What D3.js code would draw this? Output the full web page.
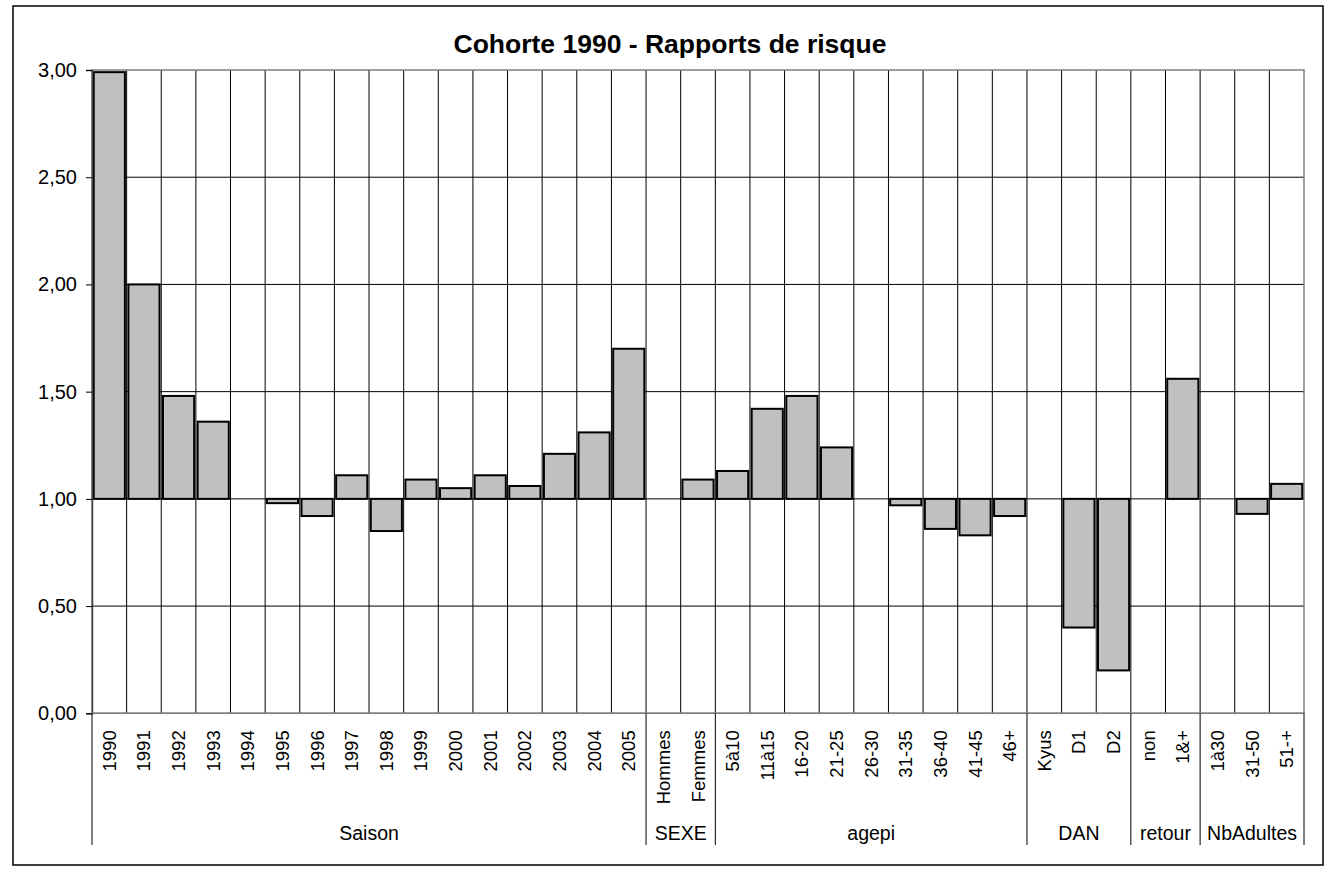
<!DOCTYPE html>
<html>
<head>
<meta charset="utf-8">
<script src="https://cdn.jsdelivr.net/npm/d3@7"></script>
<style>
  body { margin: 0; background: #fff; }
  text { font-family: Arial, 'Liberation Sans', sans-serif; fill: #000; }
</style>
</head>
<body>
<div id="graf"></div>
<script>
// -- Données
categories = ['1990', '1991', '1992', '1993', '1994', '1995', '1996', '1997', '1998', '1999',
              '2000', '2001', '2002', '2003', '2004', '2005',
              'Hommes', 'Femmes',
              '5à10', '11à15', '16-20', '21-25', '26-30', '31-35', '36-40', '41-45', '46+',
              'Kyus', 'D1', 'D2',
              'non', '1&+',
              '1à30', '31-50', '51-+']
valeurs = [2.99, 2.00, 1.48, 1.36, null, 0.98, 0.92, 1.11, 0.85, 1.09,
           1.05, 1.11, 1.06, 1.21, 1.31, 1.70,
           null, 1.09,
           1.13, 1.42, 1.48, 1.24, null, 0.97, 0.86, 0.83, 0.92,
           null, 0.40, 0.20,
           null, 1.56,
           null, 0.93, 1.07]
groupes = ['Saison', 'SEXE', 'agepi', 'DAN', 'retour', 'NbAdultes']
tailleGroupes = [16, 2, 9, 3, 2, 3]
yTicks = [0, 0.5, 1, 1.5, 2, 2.5, 3]
base = 1
titre = 'Cohorte 1990 - Rapports de risque'

// -- Canvas
ancho_total = 1337
alto_total = 872
margins = {top: 70, left: 92, right: 33, bottom: 159}
ancho = ancho_total - margins.left - margins.right
alto = 713.3 - margins.top

svg = d3.select('#graf').append('svg')
        .attr('width', ancho_total)
        .attr('height', alto_total)

// -- Cadre extérieur
svg.append('rect')
    .attr('x', 13).attr('y', 6)
    .attr('width', 1310).attr('height', 859)
    .attr('fill', 'none')
    .attr('stroke', '#000')
    .attr('stroke-width', 1.5)

svg.append('text')
    .attr('x', 670).attr('y', 53)
    .attr('text-anchor', 'middle')
    .attr('font-weight', 'bold')
    .attr('font-size', '26.5px')
    .text(titre)

g = svg.append('g')
       .attr('transform', `translate(${margins.left}, ${margins.top})`)

// -- Escaladores
x = d3.scaleBand().domain(categories).range([0, ancho]).paddingInner(0.1).paddingOuter(0.05)
y = d3.scaleLinear().domain([0, 3]).range([alto, 0])
paso = x.step()
borde = i => x(categories[0]) - x.paddingOuter() * paso + i * paso

// -- Grille horizontale
g.selectAll('.hgrid')
    .data(yTicks.filter(d => d > 0 && d < 3))
    .enter().append('line')
    .attr('x1', 0).attr('x2', ancho)
    .attr('y1', d => y(d)).attr('y2', d => y(d))
    .attr('stroke', '#000')
    .attr('stroke-width', 1)

// -- Grille verticale
g.selectAll('.vgrid')
    .data(d3.range(1, categories.length))
    .enter().append('line')
    .attr('x1', d => borde(d)).attr('x2', d => borde(d))
    .attr('y1', 0).attr('y2', alto)
    .attr('stroke', '#000')
    .attr('stroke-width', 1)

// -- Cadre du graphique
g.append('rect')
    .attr('x', 0).attr('y', 0)
    .attr('width', ancho).attr('height', alto)
    .attr('fill', 'none')
    .attr('stroke', '#808080')
    .attr('stroke-width', 1.5)

// -- Barres
g.selectAll('.barre')
    .data(valeurs.map((v, i) => ({cat: categories[i], v: v})).filter(d => d.v !== null))
    .enter().append('rect')
    .attr('x', d => x(d.cat))
    .attr('width', x.bandwidth())
    .attr('y', d => y(Math.max(d.v, base)))
    .attr('height', d => Math.abs(y(d.v) - y(base)))
    .attr('fill', '#c0c0c0')
    .attr('stroke', '#000')
    .attr('stroke-width', 2)

// -- Axe Y
yAxis = d3.axisLeft(y)
          .tickValues(yTicks)
          .tickSize(6)
          .tickPadding(9)
          .tickFormat(d => d3.format('.2f')(d).replace('.', ','))
ya = g.append('g').call(yAxis)
ya.select('.domain').attr('stroke', '#404040').attr('stroke-width', 1.5)
ya.selectAll('.tick line').attr('stroke', '#000')
ya.selectAll('.tick text')
    .attr('font-size', '20px')
    .attr('font-family', 'Arial, Liberation Sans, sans-serif')
    .attr('fill', '#000')

// -- Axe X (ligne 0)
g.append('line')
    .attr('x1', 0).attr('x2', ancho)
    .attr('y1', alto).attr('y2', alto)
    .attr('stroke', '#808080')
    .attr('stroke-width', 1.5)

// -- Étiquettes des catégories
g.selectAll('.cat')
    .data(categories)
    .enter().append('text')
    .attr('transform', d => `translate(${x(d) + x.bandwidth() / 2 + 6.5}, ${alto + 17}) rotate(-90)`)
    .attr('text-anchor', 'end')
    .attr('font-size', '18.5px')
    .text(d => d)

// -- Groupes
cumul = [0]
tailleGroupes.forEach((n, i) => cumul.push(cumul[i] + n))
g.selectAll('.sep')
    .data(cumul)
    .enter().append('line')
    .attr('x1', d => borde(d)).attr('x2', d => borde(d))
    .attr('y1', alto).attr('y2', 845 - margins.top)
    .attr('stroke', '#000')
    .attr('stroke-width', 1)

g.selectAll('.grp')
    .data(groupes)
    .enter().append('text')
    .attr('x', (d, i) => (borde(cumul[i]) + borde(cumul[i + 1])) / 2)
    .attr('y', 840 - margins.top)
    .attr('text-anchor', 'middle')
    .attr('font-size', '19.5px')
    .text(d => d)
</script>
</body>
</html>
